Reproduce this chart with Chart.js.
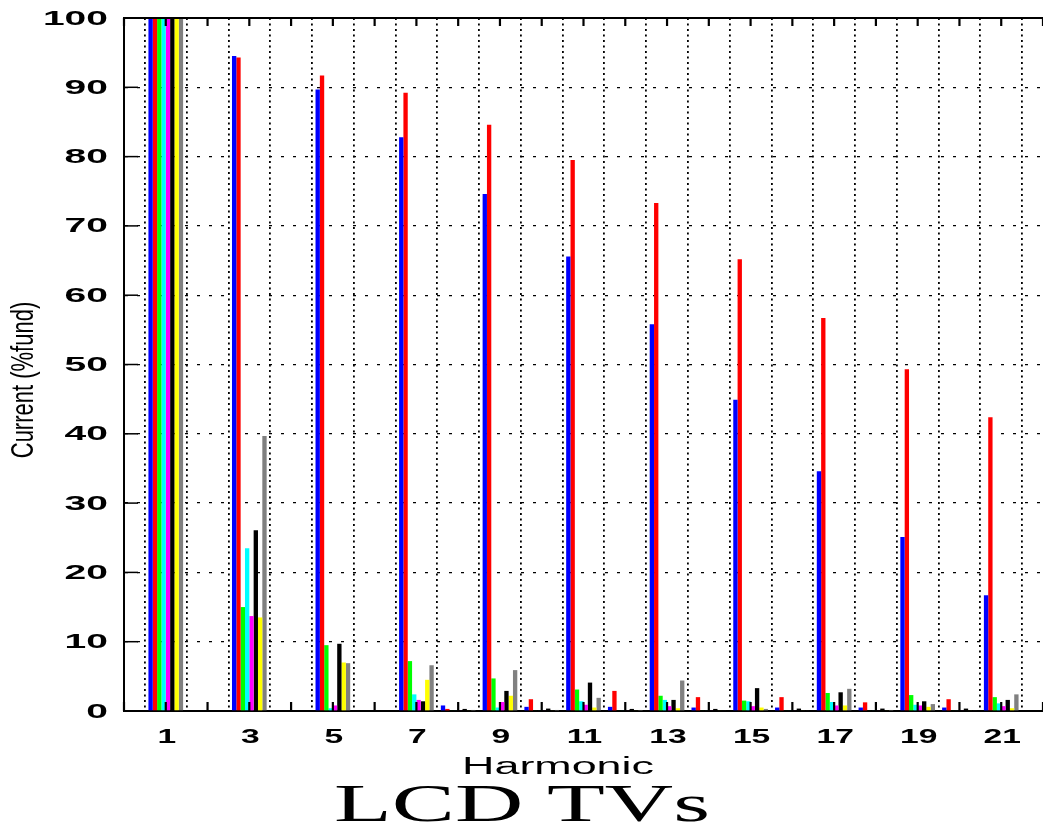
<!DOCTYPE html>
<html>
<head>
<meta charset="utf-8">
<script src="https://cdn.jsdelivr.net/npm/chart.js@4/dist/chart.umd.min.js"></script>
<style>
  html, body { margin: 0; padding: 0; background: #ffffff; overflow: hidden; }
  canvas { display: block; }
</style>
</head>
<body>
<canvas id="chart" width="1043" height="825"></canvas>
<script>
// Harmonic orders on the x axis and the labelled ticks
const harmonics = [1,2,3,4,5,6,7,8,9,10,11,12,13,14,15,16,17,18,19,20,21];
const xTickLabels = ['1','3','5','7','9','11','13','15','17','19','21'];
const yTickValues = [0,10,20,30,40,50,60,70,80,90,100];

// Harmonic current of each LCD TV, in % of the fundamental
const tv1 = [100,0,94.5,0,89.7,0,82.8,0.8,74.6,0.6,65.6,0.6,55.8,0.5,44.9,0.5,34.6,0.5,25.1,0.5,16.7];
const tv2 = [100,0,94.3,0,91.7,0,89.2,0.3,84.6,1.7,79.5,2.9,73.3,2.0,65.2,2.0,56.7,1.25,49.3,1.7,42.4];
const tv3 = [100,0,15.0,0,9.5,0,7.2,0.1,4.7,0.1,3.1,0.1,2.2,0.1,1.5,0.1,2.6,0.1,2.3,0.1,2.0];
const tv4 = [100,0,23.5,0,0.4,0,2.4,0.1,0.5,0.1,1.4,0.1,1.6,0.1,1.4,0.1,1.3,0.1,0.9,0.1,1.1];
const tv5 = [100,0,13.7,0,0.8,0,1.6,0.1,1.3,0.1,0.9,0.1,0.7,0.1,0.7,0.1,0.8,0.1,0.8,0.1,0.7];
const tv6 = [100,0,26.1,0,9.7,0,1.4,0.3,2.9,0.35,4.1,0.3,1.6,0.3,3.3,0.35,2.7,0.35,1.4,0.35,1.6];
const tv7 = [100,0,13.5,0,7.0,0,4.5,0.1,2.2,0.1,0.5,0.1,0.4,0.1,0.5,0.1,0.8,0.1,0.6,0.1,0.4];
const tv8 = [100,0,39.7,0,6.9,0,6.6,0.15,5.9,0.15,1.9,0.15,4.4,0.1,0.3,0.1,3.2,0.15,1.0,0.1,2.4];

const seriesList = [tv1, tv2, tv3, tv4, tv5, tv6, tv7, tv8];
const seriesNames = ['TV 1','TV 2','TV 3','TV 4','TV 5','TV 6','TV 7','TV 8'];
const seriesColors = ['#0000ff','#ff0000','#00ff00','#00ffff','#ff00ff','#000000','#ffff00','#808080'];

const datasets = seriesList.map((vals, i) => ({
  label: seriesNames[i],
  data: harmonics.map((h, j) => ({ x: h, y: vals[j] })),
  backgroundColor: seriesColors[i],
  borderWidth: 0,
  categoryPercentage: 0.83,
  barPercentage: 1.0
}));

// Draws horizontally stretched text
function drawText(ctx, text, x, y, font, sx, align, baseline, rotate) {
  ctx.save();
  ctx.translate(x, y);
  ctx.scale(sx, 1);
  if (rotate) ctx.rotate(rotate);
  ctx.font = font;
  ctx.fillStyle = '#000000';
  ctx.textAlign = align;
  ctx.textBaseline = baseline;
  ctx.fillText(text, 0, 0);
  ctx.restore();
}

const framePlugin = {
  id: 'frameAndLabels',
  afterDraw(chart) {
    const ctx = chart.ctx;
    const xs = chart.scales.x, ys = chart.scales.y;
    const area = chart.chartArea;
    ctx.save();
    // top frame line
    ctx.strokeStyle = '#000';
    ctx.lineWidth = 2;
    ctx.beginPath();
    ctx.moveTo(area.left, area.top);
    ctx.lineTo(area.right, area.top);
    ctx.stroke();
    // inward tick marks
    ctx.lineWidth = 2.2;
    xs.ticks.forEach(t => {
      const px = xs.getPixelForValue(t.value);
      ctx.beginPath();
      ctx.moveTo(px, area.bottom); ctx.lineTo(px, area.bottom - 9);
      ctx.moveTo(px, area.top); ctx.lineTo(px, area.top + 8);
      ctx.stroke();
    });
    ctx.lineWidth = 1.5;
    ys.ticks.forEach(t => {
      const py = ys.getPixelForValue(t.value);
      ctx.beginPath();
      ctx.moveTo(area.left, py); ctx.lineTo(area.left + 14, py);
      ctx.stroke();
    });
    ctx.restore();

    // tick labels
    yTickValues.forEach(v => {
      drawText(ctx, String(v), 108, ys.getPixelForValue(v) + 1, 'bold 20px "Liberation Sans"', 1.95, 'right', 'middle');
    });
    xTickLabels.forEach(lbl => {
      drawText(ctx, lbl, xs.getPixelForValue(Number(lbl)) + 1, 737, 'bold 21px "Liberation Sans"', 1.6, 'center', 'middle');
    });
    // axis titles and chart title
    drawText(ctx, 'Harmonic', 558, 768, '23px "Liberation Sans"', 1.95, 'center', 'middle');
    drawText(ctx, 'Current (%fund)', 25, 380, '22px "Liberation Sans"', 1.4, 'center', 'middle', -Math.PI / 2);
    drawText(ctx, 'LCD TVs', 522, 821, '52px "Liberation Serif"', 1.82, 'center', 'alphabetic');
  }
};

new Chart(document.getElementById('chart'), {
  type: 'bar',
  data: { datasets },
  options: {
    responsive: false,
    animation: false,
    layout: { padding: { left: 124, top: 18, bottom: 114, right: -9 } },
    plugins: { legend: { display: false }, title: { display: false }, tooltip: { enabled: false } },
    scales: {
      x: {
        type: 'linear', min: 0, max: 22, offset: false,
        ticks: { display: false, stepSize: 1, autoSkip: false },
        grid: { display: true, color: '#000000', lineWidth: 1.8, drawTicks: false },
        border: { display: true, color: '#000000', width: 2, dash: [2, 3.5] }
      },
      y: {
        min: 0, max: 100,
        ticks: { display: false, stepSize: 10 },
        grid: { display: true, color: '#000000', lineWidth: 1.3, drawTicks: false },
        border: { display: true, color: '#000000', width: 2, dash: [3, 9] }
      }
    }
  },
  plugins: [framePlugin]
});
</script>
</body>
</html>
